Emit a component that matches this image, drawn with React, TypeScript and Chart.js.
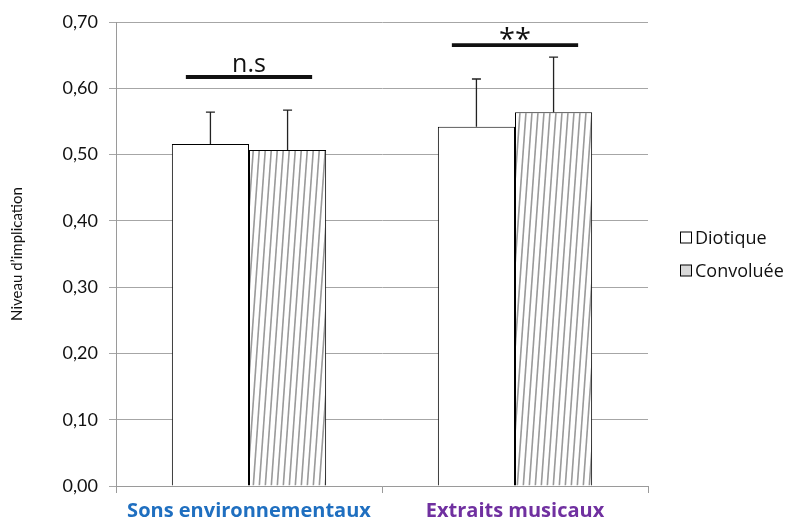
import React, { useEffect, useRef } from "react";
import { Chart, registerables } from "chart.js";

Chart.register(...registerables);

const categories = ["Sons environnementaux", "Extraits musicaux"];
const categoryColors = ["#1F6FC0", "#7030A0"];
const seriesNames = ["Diotique", "Convoluée"];
const diotique = [0.516, 0.542];
const convoluee = [0.507, 0.564];
const diotiqueErr = [0.048, 0.072];
const convolueeErr = [0.06, 0.083];
const sigLabels = ["n.s", "**"];
const sigLevels = [0.617, 0.665];
const yMin = 0;
const yMax = 0.7;
const yStep = 0.1;

const FONT = "Lato, 'Open Sans', sans-serif";
const FONT2 = "'Open Sans', sans-serif";

function makeHatch(): CanvasPattern | string {
  const c = document.createElement("canvas");
  const w = 6, h = 84;
  c.width = w; c.height = h;
  const g = c.getContext("2d");
  if (!g) return "#ddd";
  g.fillStyle = "#ffffff";
  g.fillRect(0, 0, w, h);
  g.strokeStyle = "#9a9a9a";
  g.lineWidth = 1.6;
  for (let k = -1; k <= 1; k++) {
    g.beginPath();
    g.moveTo(k * w, h);
    g.lineTo(k * w + w, 0);
    g.stroke();
  }
  const p = g.createPattern(c, "repeat");
  return p || "#ddd";
}

export default function App() {
  const ref = useRef<HTMLCanvasElement>(null);
  useEffect(() => {
    document.body.style.margin = "0";
    const hatch = makeHatch();
    const errs = [diotiqueErr, convolueeErr];

    const extras = {
      id: "extras",
      afterDatasetsDraw(chart: any) {
        const ctx = chart.ctx;
        const ys = chart.scales.y;
        ctx.save();
        chart.data.datasets.forEach((ds: any, di: number) => {
          const meta = chart.getDatasetMeta(di);
          meta.data.forEach((bar: any, i: number) => {
            const v = ds.data[i];
            const top = ys.getPixelForValue(v + errs[di][i]);
            const base = ys.getPixelForValue(v);
            ctx.strokeStyle = "#222";
            ctx.lineWidth = 1.3;
            ctx.beginPath();
            ctx.moveTo(bar.x, base);
            ctx.lineTo(bar.x, top);
            ctx.moveTo(bar.x - 4.5, top);
            ctx.lineTo(bar.x + 4.5, top);
            ctx.stroke();
          });
        });
        const m0 = chart.getDatasetMeta(0);
        const m1 = chart.getDatasetMeta(1);
        sigLabels.forEach((lab, i) => {
          const b0 = m0.data[i];
          const b1 = m1.data[i];
          const left = b0.x - b0.width / 2 + 14;
          const right = b1.x + b1.width / 2 - 14;
          const y = ys.getPixelForValue(sigLevels[i]);
          ctx.strokeStyle = "#111";
          ctx.lineWidth = 3.8;
          ctx.beginPath();
          ctx.moveTo(left, y);
          ctx.lineTo(right, y);
          ctx.stroke();
          ctx.fillStyle = "#111";
          ctx.textAlign = "center";
          ctx.textBaseline = "alphabetic";
          if (lab === "**") {
            ctx.font = "29px " + FONT2;
            ctx.fillText(lab, (left + right) / 2, y + 4);
          } else {
            ctx.font = "25px " + FONT2;
            ctx.fillText(lab, (left + right) / 2, y - 5);
          }
        });
        ctx.restore();
      },
      afterDraw(chart: any) {
        const ctx = chart.ctx;
        const ca = chart.chartArea;
        const cy = (ca.top + ca.bottom) / 2;
        const x = ca.right + 32;
        ctx.save();
        chart.data.datasets.forEach((ds: any, i: number) => {
          const y = cy - 16.5 + i * 33;
          ctx.fillStyle = i === 0 ? "#ffffff" : "#d9d9d9";
          ctx.fillRect(x, y - 5.5, 11, 11);
          ctx.strokeStyle = "#000";
          ctx.lineWidth = 1;
          ctx.strokeRect(x + 0.5, y - 5.5, 11, 11);
          ctx.fillStyle = "#111";
          ctx.font = "18px " + FONT2;
          ctx.textAlign = "left";
          ctx.textBaseline = "middle";
          ctx.fillText(ds.label, x + 15, y + 1);
        });
        ctx.restore();
      },
    };

    const chart = new Chart(ref.current as HTMLCanvasElement, {
      type: "bar",
      data: {
        labels: categories,
        datasets: [
          {
            label: seriesNames[0],
            data: diotique,
            backgroundColor: "#ffffff",
            borderColor: "#000000",
            borderWidth: 1,
          },
          {
            label: seriesNames[1],
            data: convoluee,
            backgroundColor: hatch as any,
            borderColor: "#000000",
            borderWidth: 1,
          },
        ],
      },
      options: {
        animation: false,
        responsive: false,
        maintainAspectRatio: false,
        layout: { padding: { left: 0, right: 139, top: 22, bottom: 0 } },
        plugins: {
          legend: { display: false },
          tooltip: { enabled: false },
        },
        datasets: {
          bar: { categoryPercentage: 0.58, barPercentage: 1 },
        },
        scales: {
          x: {
            grid: {
              display: true,
              drawOnChartArea: false,
              drawTicks: true,
              tickLength: 7,
              color: "#9a9a9a",
              offset: true,
            },
            border: { color: "#9a9a9a", width: 1 },
            ticks: {
              color: categoryColors,
              font: { family: FONT2, size: 20, weight: "bold" },
              padding: 6,
            },
            afterFit(scale: any) {
              scale.height = 35;
            },
          },
          y: {
            min: yMin,
            max: yMax,
            grid: { color: "#a6a6a6", tickLength: 7 },
            border: { color: "#9a9a9a" },
            ticks: {
              stepSize: yStep,
              color: "#111",
              font: { family: FONT, size: 18 },
              padding: 11,
              callback: (v: any) => Number(v).toFixed(2).replace(".", ","),
            },
            title: {
              display: true,
              text: "Niveau d’implication",
              color: "#111",
              font: { family: FONT, size: 15 },
              padding: { top: 8, bottom: 0 },
            },
            afterFit(scale: any) {
              scale.width = 116;
            },
          },
        },
      },
      plugins: [extras],
    });
    return () => chart.destroy();
  }, []);
  return (
    <div style={{ width: 787, height: 521 }}>
      <canvas ref={ref} width={787} height={521} />
    </div>
  );
}
